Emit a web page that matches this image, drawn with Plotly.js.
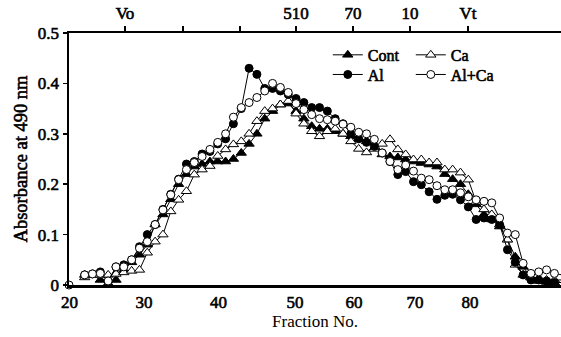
<!DOCTYPE html>
<html>
<head>
<meta charset="utf-8">
<script src="https://cdn.plot.ly/plotly-3.0.1.min.js"></script>
<style>
html,body{margin:0;padding:0;background:#fff;}
#chart{width:561px;height:337px;}
.xtick text,.x2tick text,.ytick text,.infolayer text:not(.xtitle){stroke:#000;stroke-width:0.6px;}
</style>
</head>
<body>
<div id="chart"></div>
<script>
// Fraction numbers (x)
const fractions = [22,23,24,25,26,27,28,29,30,31,32,33,34,35,36,37,38,39,40,41,42,43,44,45,46,47,48,49,50,51,52,53,54,55,56,57,58,59,60,61,62,63,64,65,66,67,68,69,70,71,72,73,74,75,76,77,78,79,80,81,82,83];

// Absorbance at 490 nm, per series
const contY = [0.020,0.020,0.010,0.003,0.010,0.030,0.045,0.060,0.080,0.120,0.140,0.170,0.200,0.220,0.235,0.240,0.245,0.245,0.245,0.250,0.262,0.280,0.300,0.330,0.345,0.358,0.360,0.345,0.330,0.315,0.310,0.310,0.305,0.300,0.295,0.290,0.285,0.272,0.259,0.255,0.253,0.249,0.245,0.242,0.239,0.235,0.220,0.210,0.200,0.180,0.160,0.140,0.130,0.116,0.090,0.056,0.036,0.015,0.008,0.006,0.005,0.005];
const caY = [0.015,0.020,0.020,0.020,0.022,0.025,0.028,0.030,0.064,0.086,0.100,0.146,0.169,0.186,0.219,0.229,0.236,0.256,0.269,0.279,0.285,0.300,0.325,0.345,0.350,0.358,0.365,0.340,0.320,0.305,0.295,0.305,0.310,0.300,0.285,0.270,0.263,0.270,0.280,0.289,0.269,0.259,0.249,0.249,0.243,0.243,0.229,0.229,0.223,0.209,0.165,0.150,0.140,0.120,0.090,0.040,0.020,0.015,0.012,0.010,0.010,0.010];
const alY = [0.020,0.022,0.026,0.006,0.036,0.040,0.050,0.076,0.100,0.120,0.150,0.180,0.210,0.240,0.245,0.260,0.265,0.280,0.290,0.320,0.350,0.430,0.418,0.390,0.390,0.385,0.378,0.370,0.362,0.352,0.352,0.345,0.330,0.320,0.300,0.290,0.283,0.275,0.262,0.245,0.219,0.225,0.205,0.199,0.185,0.170,0.178,0.180,0.169,0.155,0.130,0.133,0.130,0.120,0.070,0.045,0.020,0.010,0.010,0.008,0.005,0.005];
const alcaY = [0.020,0.022,0.023,0.008,0.036,0.036,0.050,0.073,0.086,0.120,0.149,0.179,0.209,0.229,0.243,0.255,0.269,0.283,0.300,0.333,0.352,0.362,0.372,0.385,0.400,0.392,0.382,0.360,0.348,0.338,0.330,0.328,0.325,0.319,0.313,0.303,0.300,0.289,0.262,0.245,0.229,0.238,0.226,0.212,0.209,0.197,0.189,0.189,0.183,0.175,0.169,0.166,0.163,0.133,0.103,0.100,0.043,0.023,0.026,0.030,0.023,0.020];
// Al+Ca point at fraction 20 (not joined to the rest)
const alcaStartX = [20, 21];
const alcaStartY = [0, null];

// Bottom axis labels and where they sit on the drawn axis
const bottomTickVals = [20.05, 29.58, 39.09, 48.86, 56.40, 64.19, 71.21];
const bottomTickText = ["20","30","40","50","60","70","80"];
// Top axis: elution markers
const topTickVals = [27.15, 34.56, 41.84, 48.99, 56.27, 63.55, 70.96];
const topTickText = ["Vo","","","510","70","10","Vt"];

const xRange = [20, 82.84];
const serif = "Liberation Serif, Times New Roman, serif";

function series(name, x, y, symbol, filled, legend) {
  return {
    type: "scatter", mode: "lines+markers", name: name, x: x, y: y,
    legend: legend, cliponaxis: false,
    line: {color: "#000", width: 1},
    marker: {symbol: symbol, size: symbol === "circle" ? 8 : 9,
             color: filled ? "#000" : "#fff", line: {color: "#000", width: 1}}
  };
}

const traces = [
  series("Cont", fractions, contY, "triangle-up", true, "legend"),
  series("Ca", fractions, caY, "triangle-up", false, "legend"),
  series("Al", fractions, alY, "circle", true, "legend2"),
  series("Al+Ca", alcaStartX.concat(fractions), alcaStartY.concat(alcaY), "circle", false, "legend2")
];

const tickFont = {family: serif, size: 17, color: "#000"};
const legFont = {family: serif, size: 16, color: "#000"};

const legendCommon = {orientation: "h", xanchor: "left", yanchor: "middle", bgcolor: "rgba(0,0,0,0)",
  font: legFont, itemwidth: 30, entrywidth: 38, entrywidthmode: "pixels", borderwidth: 0};

const layout = {
  width: 561, height: 337,
  margin: {l: 69, r: 0, t: 33, b: 52, pad: 0},
  paper_bgcolor: "#fff", plot_bgcolor: "#fff",
  showlegend: true,
  xaxis: {
    range: xRange, showgrid: false, zeroline: false,
    showline: true, linecolor: "#000", linewidth: 2.5,
    ticks: "", tickmode: "array", tickvals: bottomTickVals, ticktext: bottomTickText,
    tickfont: tickFont, ticklabelstandoff: 0,
    title: {text: "Fraction No.", font: {family: serif, size: 17, color: "#000"}, standoff: 3}
  },
  xaxis2: {
    overlaying: "x", side: "top", anchor: "y", range: xRange,
    showgrid: false, zeroline: false,
    showline: true, linecolor: "#000", linewidth: 2.5,
    ticks: "outside", ticklen: 5, tickwidth: 2, tickcolor: "#000",
    tickmode: "array", tickvals: topTickVals, ticktext: topTickText,
    tickfont: tickFont
  },
  yaxis: {
    range: [0, 0.5], showgrid: false, zeroline: false,
    showline: true, linecolor: "#000", linewidth: 2.5,
    ticks: "outside", ticklen: 4, tickwidth: 1.5, tickcolor: "#000",
    tickmode: "array", tickvals: [0, 0.1, 0.2, 0.3, 0.4, 0.5],
    ticktext: ["0", "0.1", "0.2", "0.3", "0.4", "0.5"],
    tickfont: tickFont,
    title: {text: "Absorbance at 490 nm", font: {family: serif, size: 18.5, color: "#000"}, standoff: 6}
  },
  legend: Object.assign({x: 0.526, y: 0.913}, legendCommon),
  legend2: Object.assign({x: 0.526, y: 0.835}, legendCommon)
};

traces.push({type: "scatter", x: [], y: [], xaxis: "x2", yaxis: "y", showlegend: false, hoverinfo: "skip"});

Plotly.newPlot("chart", traces, layout, {staticPlot: true, displayModeBar: false});
</script>
</body>
</html>
